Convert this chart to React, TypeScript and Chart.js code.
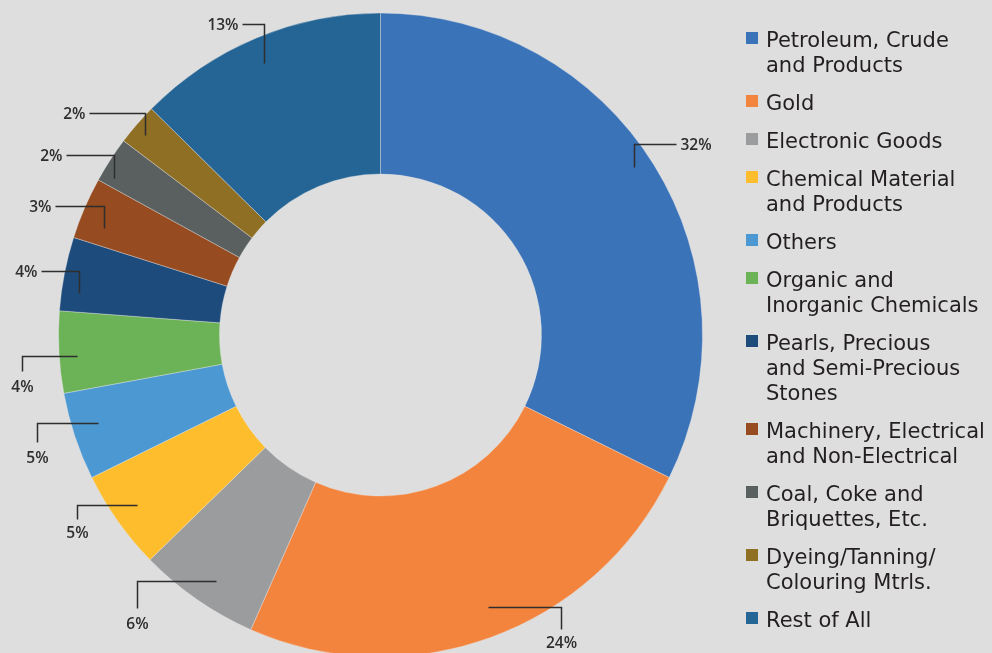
import React, { useEffect, useRef } from "react";
import { Chart, registerables } from "chart.js";

Chart.register(...registerables);

const CATEGORIES = [
  "Petroleum, Crude\nand Products",
  "Gold",
  "Electronic Goods",
  "Chemical Material\nand Products",
  "Others",
  "Organic and\nInorganic Chemicals",
  "Pearls, Precious\nand Semi-Precious\nStones",
  "Machinery, Electrical\nand Non-Electrical",
  "Coal, Coke and\nBriquettes, Etc.",
  "Dyeing/Tanning/\nColouring Mtrls.",
  "Rest of All",
];

const SHARES = [32.3, 24.3, 6.1, 5.0, 4.4, 4.1, 3.7, 3.1, 2.3, 2.1, 12.6];

const SHARE_LABELS = ["32%", "24%", "6%", "5%", "5%", "4%", "4%", "3%", "2%", "2%", "13%"];

const COLORS = [
  "#3b73b9",
  "#f3843e",
  "#9b9c9e",
  "#fdbd2c",
  "#4c98d2",
  "#6cb257",
  "#1c4b7c",
  "#974b21",
  "#5a5f5f",
  "#8f6f24",
  "#256595",
];

// leader-line layout for each data label
// t: A = vertical then horizontal, B = horizontal then vertical
// f: position of the anchor along the slice (0..1), r: anchor radius as fraction of outer radius
const LABEL_LAYOUT = [
  { t: "A", f: 0.486, r: 0.944, v: 23, h: 42 },
  { t: "B", f: 0.481, r: 0.908, h: 73, v: 22, g: 14 },
  { t: "B", f: 0.459, r: 0.919, h: -79, v: 27, g: 16 },
  { t: "B", f: 0.52, r: 0.922, h: -60, v: 14, g: 14 },
  { t: "B", f: 0.57, r: 0.919, h: -61, v: 19, g: 16 },
  { t: "B", f: 0.44, r: 0.944, h: -55, v: 15, g: 16 },
  { t: "A", f: 0.27, r: 0.944, v: 22, h: -38 },
  { t: "A", f: 0.32, r: 0.921, v: 22, h: -49 },
  { t: "A", f: 0.22, r: 0.96, v: 23, h: -48 },
  { t: "A", f: 0.43, r: 0.96, v: 22, h: -56 },
  { t: "A", f: 0.49, r: 0.919, v: 39, h: -22 },
];

const BG = "#dedede";

const leaderPlugin = {
  id: "leaderLabels",
  afterDatasetsDraw(chart: any) {
    const ctx = chart.ctx;
    const meta = chart.getDatasetMeta(0);
    ctx.save();
    ctx.strokeStyle = "#2e2e2e";
    ctx.lineWidth = 1.5;
    ctx.fillStyle = "#2e2e2e";
    ctx.font = "600 15.5px 'Open Sans'";
    meta.data.forEach((arc: any, i: number) => {
      const p = arc.getProps(["x", "y", "startAngle", "endAngle", "outerRadius"], true);
      const L = LABEL_LAYOUT[i];
      const ang = p.startAngle + (p.endAngle - p.startAngle) * L.f;
      const r = p.outerRadius * L.r;
      const ax = Math.round(p.x + Math.cos(ang) * r) + 0.5;
      const ay = Math.round(p.y + Math.sin(ang) * r) + 0.5;
      ctx.beginPath();
      if (L.t === "A") {
        const cy = ay - L.v;
        const ex = ax + L.h;
        ctx.moveTo(ax, ay);
        ctx.lineTo(ax, cy);
        ctx.lineTo(ex, cy);
        ctx.stroke();
        ctx.textBaseline = "middle";
        ctx.textAlign = L.h > 0 ? "left" : "right";
        ctx.fillText(SHARE_LABELS[i], ex + (L.h > 0 ? 4 : -4), cy + 1);
      } else {
        const ex = ax + L.h;
        const ey = ay + L.v;
        ctx.moveTo(ax, ay);
        ctx.lineTo(ex, ay);
        ctx.lineTo(ex, ey);
        ctx.stroke();
        ctx.textBaseline = "middle";
        ctx.textAlign = "center";
        ctx.fillText(SHARE_LABELS[i], ex, ey + (L.g || 14));
      }
    });
    ctx.restore();
  },
};

export default function App() {
  const ref = useRef<HTMLCanvasElement | null>(null);

  useEffect(() => {
    const prevMargin = document.body.style.margin;
    document.body.style.margin = "0";
    document.body.style.background = BG;
    const chart = new Chart(ref.current as HTMLCanvasElement, {
      type: "doughnut",
      data: {
        labels: CATEGORIES,
        datasets: [
          {
            data: SHARES,
            backgroundColor: COLORS,
            borderColor: "rgba(235,235,235,0.6)",
            borderWidth: 0.6,
          },
        ],
      },
      options: {
        responsive: false,
        animation: false,
        radius: 322,
        cutout: "50%",
        layout: { padding: 0 },
        plugins: {
          legend: { display: false },
          tooltip: { enabled: false },
        },
      },
      plugins: [leaderPlugin],
    });
    return () => {
      chart.destroy();
      document.body.style.margin = prevMargin;
    };
  }, []);

  return (
    <div
      style={{
        position: "fixed",
        left: 0,
        top: 0,
        width: 992,
        height: 653,
        overflow: "hidden",
        background: BG,
      }}
    >
      <canvas
        ref={ref}
        width={761}
        height={670}
        style={{ position: "absolute", left: 0, top: 0, width: 761, height: 670 }}
      />
      <div
        style={{
          position: "absolute",
          left: 746,
          top: 28,
          fontFamily: "'DejaVu Sans', sans-serif",
          fontSize: 21,
          lineHeight: "25px",
          color: "#231f20",
        }}
      >
        {CATEGORIES.map((c, i) => (
          <div key={i} style={{ display: "flex", alignItems: "flex-start", marginBottom: 13 }}>
            <div
              style={{
                width: 12,
                height: 12,
                marginTop: 4,
                background: COLORS[i],
                flex: "0 0 auto",
              }}
            />
            <div style={{ marginLeft: 8, whiteSpace: "pre" }}>{c}</div>
          </div>
        ))}
      </div>
    </div>
  );
}
